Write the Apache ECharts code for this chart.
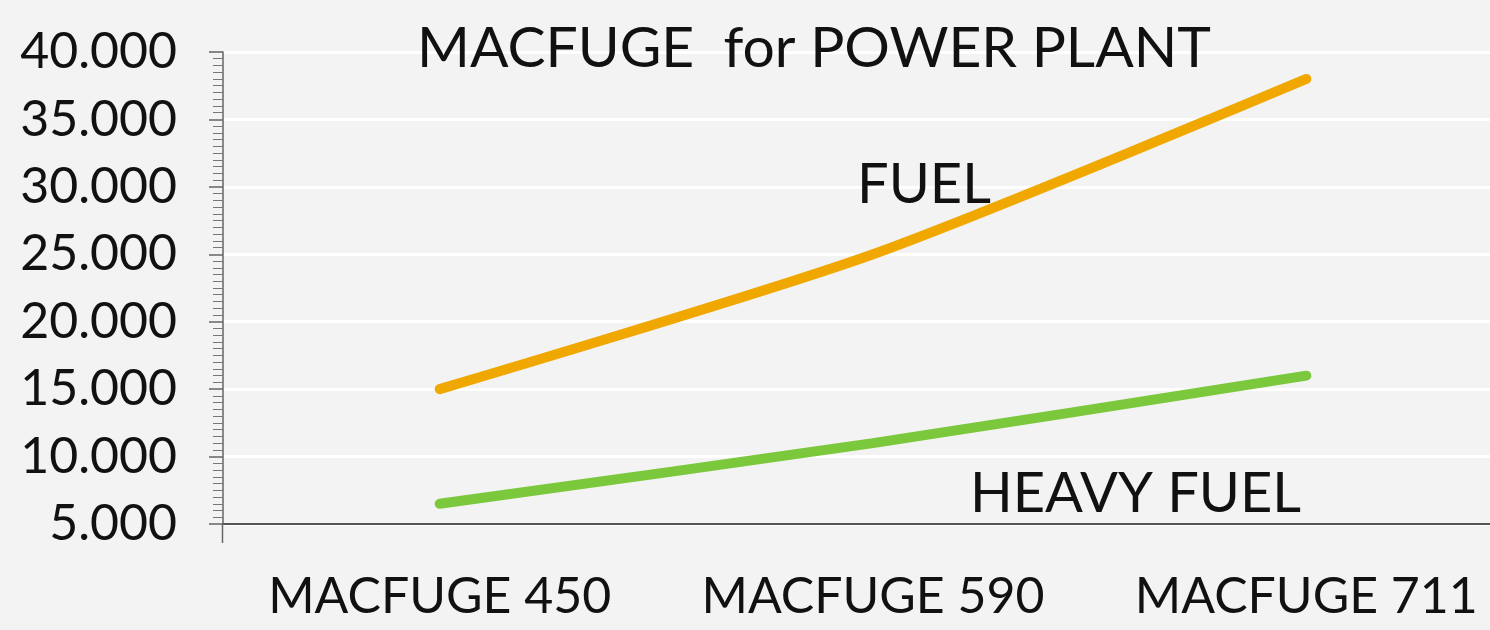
<!DOCTYPE html>
<html>
<head>
<meta charset="utf-8">
<script src="https://cdn.jsdelivr.net/npm/echarts@6/dist/echarts.min.js"></script>
<style>
html,body{margin:0;padding:0;background:#f3f3f3;}
#c{width:1490px;height:630px;}
</style>
</head>
<body>
<div id="c"></div>
<script>
const categories = ['MACFUGE 450', 'MACFUGE 590', 'MACFUGE 711'];
const fuel = [15000, 25000, 38000];
const heavyFuel = [6500, 11000, 16000];
const seriesNames = ['FUEL', 'HEAVY FUEL'];
const titleText = 'MACFUGE  for POWER PLANT';
const yMin = 5000, yMax = 40000, yStep = 5000;

const chart = echarts.init(document.getElementById('c'), null, {renderer: 'canvas'});
const fontFam = 'Lato, "Open Sans", sans-serif';
chart.setOption({
  backgroundColor: '#f3f3f3',
  animation: false,
  title: {
    text: titleText,
    left: 412, top: 15,
    textStyle: {fontFamily: fontFam, fontSize: 57, fontWeight: 'normal', color: '#111'}
  },
  grid: {left: 223, top: 52, width: 1300, height: 472, containLabel: false, outerBoundsMode: 'none'},
  xAxis: {
    type: 'category',
    data: categories,
    boundaryGap: true,
    axisLine: {lineStyle: {color: '#555', width: 2}},
    axisTick: {show: false},
    axisLabel: {interval: 0, margin: 48, fontFamily: fontFam, fontSize: 50, color: '#111'}
  },
  yAxis: {
    type: 'value',
    min: yMin, max: yMax, interval: yStep,
    axisLine: {show: true, lineStyle: {color: '#666', width: 1.5}},
    axisTick: {show: true, length: 14, lineStyle: {color: '#666', width: 1.5}},
    minorTick: {show: true, splitNumber: 10, length: 10, lineStyle: {color: '#777', width: 1}},
    splitLine: {lineStyle: {color: '#ffffff', width: 3}},
    axisLabel: {
      margin: 46, fontFamily: fontFam, fontSize: 50, color: '#111',
      formatter: v => (v / 1000).toFixed(0) + '.000'
    }
  },
  series: [
    {
      name: seriesNames[0], type: 'line', data: fuel, smooth: 0.25,
      symbol: 'none',
      lineStyle: {color: '#f0a800', width: 10, cap: 'round'},
      z: 3
    },
    {
      name: seriesNames[1], type: 'line', data: heavyFuel, smooth: 0.25,
      symbol: 'none',
      lineStyle: {color: '#7cc83c', width: 10, cap: 'round'},
      z: 3
    }
  ],
  graphic: [
    {type: 'line', z: 50, shape: {x1: 222.5, y1: 524, x2: 222.5, y2: 543},
     style: {stroke: '#666', lineWidth: 1.5}},
    {type: 'text', z: 100, left: 857, top: 157,
     style: {text: seriesNames[0], font: '56px ' + fontFam, fill: '#111'}},
    {type: 'text', z: 100, left: 970, top: 466,
     style: {text: seriesNames[1], font: '56px ' + fontFam, fill: '#111'}}
  ]
});
</script>
</body>
</html>
